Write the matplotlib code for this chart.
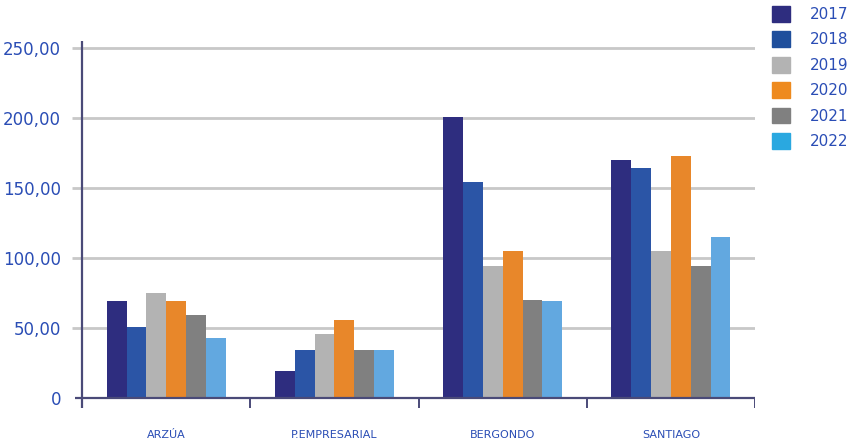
import numpy as np
import matplotlib.pyplot as plt
from matplotlib.patches import Patch

categories = ['ARZÚA', 'P.EMPRESARIAL', 'BERGONDO', 'SANTIAGO']
years = ['2017', '2018', '2019', '2020', '2021', '2022']
values = {
    '2017': [69, 19, 201, 170],
    '2018': [51, 34, 154, 164],
    '2019': [75, 46, 94, 105],
    '2020': [69, 56, 105, 173],
    '2021': [59, 34, 70, 94],
    '2022': [43, 34, 69, 115],
}
yticks = [0, 50, 100, 150, 200, 250]
ytick_labels = ['0', '50,00', '100,00', '150,00', '200,00', '250,00']

colors = ['#2e2d7f', '#2b55a6', '#b3b3b3', '#e8872a', '#808080', '#62a8e0']
legend_colors = ['#2e2d7f', '#1f4f9c', '#b3b3b3', '#ee8a1e', '#808080', '#2aa8e0']
text_blue = '#2a4db5'
axis_col = '#4a4a78'

fig = plt.figure(figsize=(8.56, 4.46), dpi=100)
ax = fig.add_axes([72 / 856, 1 - 408 / 446, (755 - 72) / 856, (408 - 41) / 446])

x = np.arange(len(categories))
bw = 0.118
for i, yr in enumerate(years):
    ax.bar(x + (i - 2.5) * bw, values[yr], width=bw, color=colors[i], zorder=3)

xmin, xmax = -0.56, 3.5
ax.set_xlim(xmin, xmax)
ax.set_ylim(-7.2, 255)

# gridlines (no line at 0; x-axis drawn instead)
ax.hlines(yticks[1:], xmin, xmax, color='#c8c8c8', lw=2, zorder=1)
ax.hlines(0, -0.54, xmax, color=axis_col, lw=1.6, zorder=4)
ax.vlines(-0.5, -7.2, 255, color=axis_col, lw=1.6, zorder=4)
ax.vlines(np.arange(0.5, 4, 1), -7.2, 0, color=axis_col, lw=1.4, zorder=4)

for s in ax.spines.values():
    s.set_visible(False)

ax.set_yticks(yticks)
ax.set_yticklabels(ytick_labels, color=text_blue, fontsize=12)
ax.tick_params(axis='y', length=0, pad=8)
ax.set_xticks(x)
ax.set_xticklabels(categories, color=text_blue, fontsize=8)
ax.tick_params(axis='x', length=0, pad=16)

handles = [Patch(color=c, label=y) for c, y in zip(legend_colors, years)]
leg = fig.legend(handles=handles, loc='upper left', bbox_to_anchor=(772 / 856, 1 - 6 / 446),
                 frameon=False, fontsize=11, handlelength=1.2, handleheight=1.2,
                 handletextpad=1.3, labelspacing=0.62, borderpad=0, borderaxespad=0)
for t in leg.get_texts():
    t.set_color(text_blue)

fig.savefig('out.png', dpi=100)
